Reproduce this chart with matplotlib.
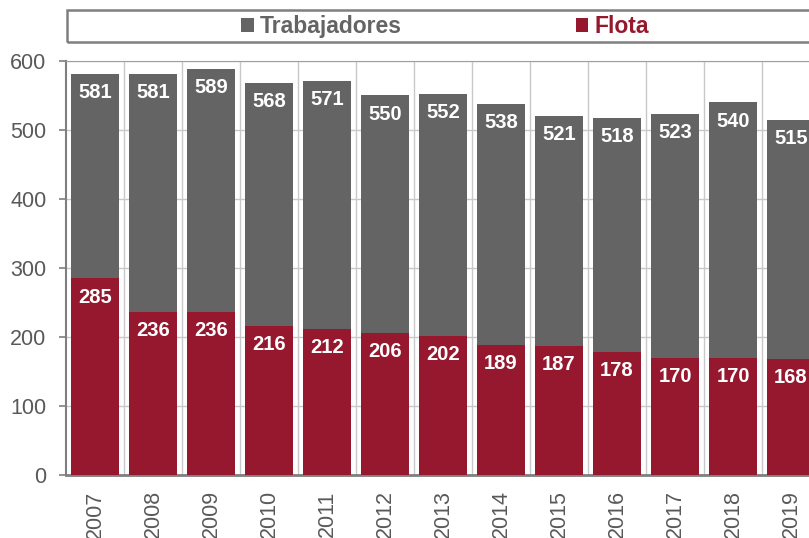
import numpy as np
import matplotlib.pyplot as plt
from matplotlib.patches import Rectangle

plt.rcParams['font.family'] = ['Liberation Sans', 'DejaVu Sans']

anios = ['2007', '2008', '2009', '2010', '2011', '2012', '2013',
         '2014', '2015', '2016', '2017', '2018', '2019']
trabajadores = [581, 581, 589, 568, 571, 550, 552, 538, 521, 518, 523, 540, 515]
flota = [285, 236, 236, 216, 212, 206, 202, 189, 187, 178, 170, 170, 168]

gris = '#646464'
rojo = '#96182f'

fig = plt.figure(figsize=(8.09, 5.38), dpi=100)
ax = fig.add_axes([66/809, 63/538, (820-66)/809, (475-61)/538])

x = np.arange(len(anios))
b1 = ax.bar(x, trabajadores, width=0.83, color=gris, label='Trabajadores', zorder=2)
b2 = ax.bar(x, flota, width=0.83, color=rojo, label='Flota', zorder=3)

for xi, v in zip(x, trabajadores):
    ax.annotate(str(v), (xi, v), xytext=(0, -13.5), textcoords='offset points',
                ha='center', va='center', color='white', fontsize=14.5, fontweight='bold', zorder=4)
for xi, v in zip(x, flota):
    ax.annotate(str(v), (xi, v), xytext=(0, -13.5), textcoords='offset points',
                ha='center', va='center', color='white', fontsize=14.5, fontweight='bold', zorder=4)

ax.set_xlim(-0.5, len(anios) - 0.5)
ax.set_ylim(0, 600)
ax.set_yticks(range(0, 601, 100))
ax.set_xticks(x)
ax.set_xticklabels(anios, rotation=90)
ax.set_xticks(x[:-1] + 0.5, minor=True)
ax.tick_params(axis='x', which='both', length=0, pad=11, labelsize=15.5, labelcolor='#595959')
ax.tick_params(axis='y', length=5, width=1.2, color='#7f7f7f', pad=9, labelsize=15.5, labelcolor='#595959')
ax.grid(axis='y', color='#c8c8c8', lw=1, zorder=0)
ax.grid(axis='x', which='minor', color='#c8c8c8', lw=1, zorder=0)

ax.spines['right'].set_visible(False)
ax.spines['top'].set_color('#a0a0a0')
ax.spines['left'].set_color('#7f7f7f')
ax.spines['left'].set_linewidth(1.5)
ax.spines['bottom'].set_color('#7f7f7f')
ax.spines['bottom'].set_linewidth(2)

# caja de la leyenda
fig.patches.append(Rectangle((67/809, 1 - 42/538), (830-67)/809, 32/538,
                             transform=fig.transFigure, fill=False,
                             edgecolor='#7f7f7f', lw=1.8))
leg = fig.legend(handles=[b1, b2], loc='center', bbox_to_anchor=(445/809, 1 - 27/538),
                 ncol=2, frameon=False, handlelength=0.55, handleheight=0.55,
                 handletextpad=0.25, columnspacing=7.6, prop={'weight': 'bold', 'size': 16.5})
for t, c in zip(leg.get_texts(), [gris, rojo]):
    t.set_color(c)

fig.savefig('out.png', dpi=100)
